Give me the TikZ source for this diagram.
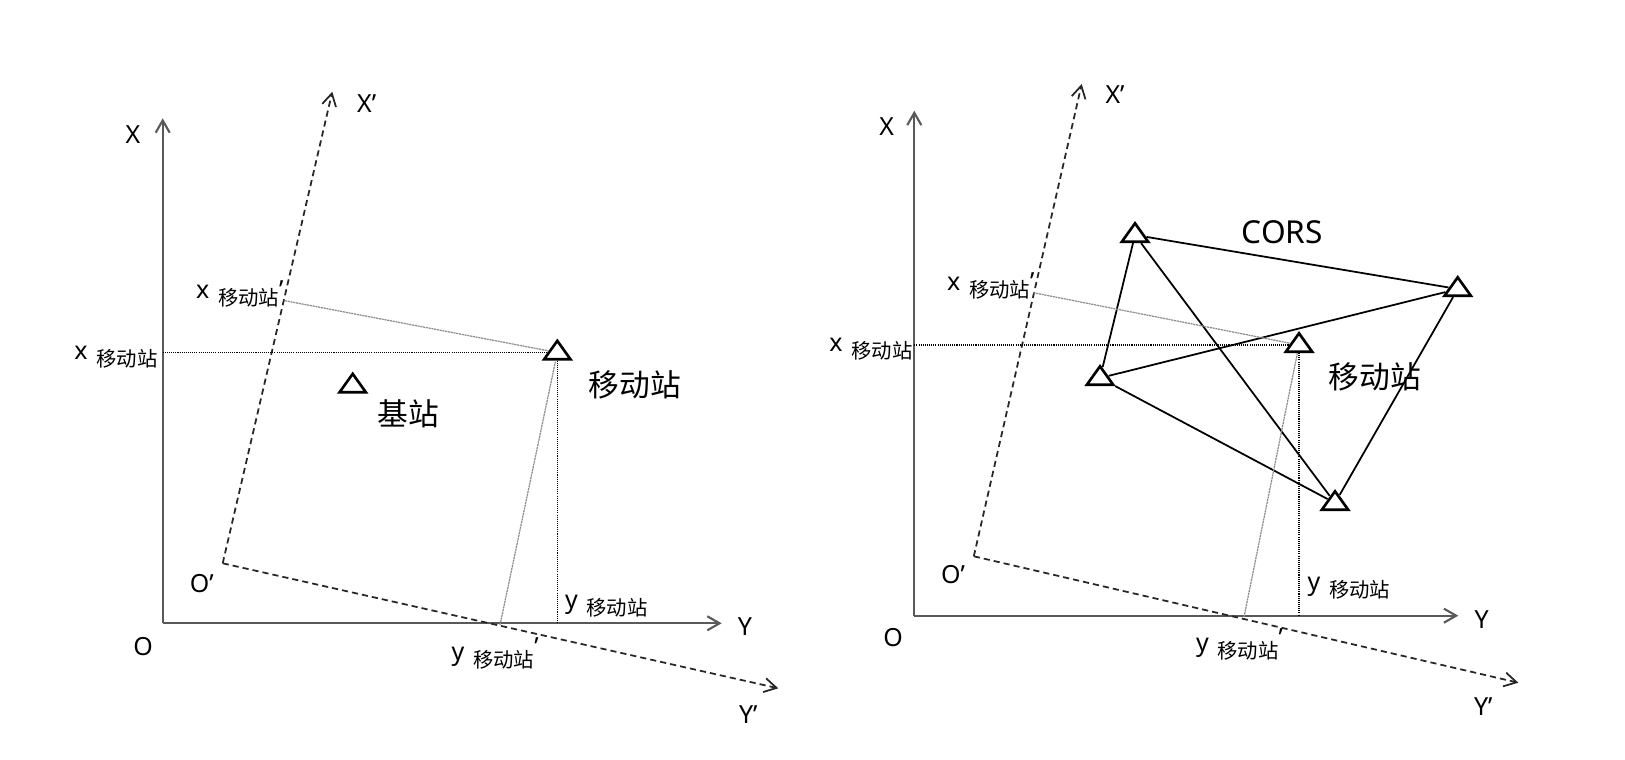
\documentclass[tikz,border=0pt]{standalone}
\usepackage{fontspec}
\setmainfont{Noto Sans}
\newfontfamily\cjk{Noto Sans CJK SC}
\usetikzlibrary{arrows.meta,shapes.geometric}
\newcommand{\zhsub}[1]{\hspace{5pt}\raisebox{-4pt}{\fontsize{11.6}{13}\selectfont\cjk #1}}
\begin{document}
\begin{tikzpicture}[x=0.02cm, y=-0.02cm,
    axis/.style={draw=black!65, line width=1.2pt, -{Straight Barb[length=7pt,width=8pt]}},
    newaxis/.style={draw=black!85, line width=1pt, dash pattern=on 3.5pt off 2.3pt, -{Straight Barb[length=7pt,width=8pt]}},
    guide/.style={draw=black, line width=0.6pt, dash pattern=on 0.6pt off 0.6pt},
    proj/.style={draw=black!45, line width=0.7pt, dash pattern=on 1.2pt off 0.4pt},
    link/.style={draw=black, line width=1pt},
    station/.style={draw, isosceles triangle, isosceles triangle stretches, shape border rotate=90, inner sep=0pt, minimum width=15pt, minimum height=10.5pt, line width=1.5pt},
    lbl/.style={inner sep=0pt, font=\fontsize{14.2}{16}\selectfont},
    coordlbl/.style={lbl, anchor=base west},
    zh/.style={inner sep=0pt, font=\fontsize{17.5}{20}\selectfont\cjk}]
    \useasboundingbox (0,0) rectangle (1625,760);

    % Left: base station and rover
    \coordinate (O1) at (162.7,623.3);
    \coordinate (X1) at (162.7,118.3);
    \coordinate (Y1) at (721.7,623.3);
    \coordinate (Op1) at (222.7,563.3);
    \coordinate (Xp1) at (332.3,91.7);
    \coordinate (Yp1) at (778.3,688.3);
    \coordinate (xf1) at (285,300.7);
    \coordinate (yf1) at (500,625);
    \draw[axis] (O1) -- (X1);
    \draw[axis] (O1) -- (Y1);
    \draw[newaxis] (Op1) -- (Xp1);
    \draw[newaxis] (Op1) -- (Yp1);

    \node[station] (base) at (352.7,385.5) {};
    \node[station] (rover1) at (557.3,352.5) {};
    \draw[guide] (rover1 -| O1) -- (rover1);
    \draw[guide] (rover1) -- (rover1 |- O1);
    \draw[proj] (xf1) -- (rover1);
    \draw[proj] (yf1) -- (rover1);

    \node[lbl] (lX1) at (133,135) {X};
    \node[lbl] (lXp1) at (366.7,103.3) {X’};
    \node[lbl] (lY1) at (745,626.7) {Y};
    \node[lbl] (lYp1) at (748.3,715) {Y’};
    \node[lbl] (lO1) at (143,647) {O};
    \node[lbl] (lOp1) at (201.7,583.3) {O’};
    \node[zh] (lbase) at (408.3,413.3) {基站};
    \node[zh] (lrover1) at (635,385) {移动站};
    \node[coordlbl] (xm1) at (74,359.2) {x\zhsub{移动站}};
    \node[coordlbl] (xpm1) at (195.7,298.8) {x\zhsub{移动站}’};
    \node[coordlbl] (ym1) at (564.7,608.6) {y\zhsub{移动站}};
    \node[coordlbl] (ypm1) at (451.3,660.3) {y\zhsub{移动站}\raisebox{3pt}{’}};

    % Right: CORS network and rover
    \coordinate (O2) at (914.3,615.7);
    \coordinate (X2) at (914.3,110.7);
    \coordinate (Y2) at (1458.3,615.7);
    \coordinate (Op2) at (973.8,556.3);
    \coordinate (Xp2) at (1081.7,84);
    \coordinate (Yp2) at (1518.3,682.7);
    \coordinate (xf2) at (1033.3,292.7);
    \coordinate (yf2) at (1244,617);
    \draw[axis] (O2) -- (X2);
    \draw[axis] (O2) -- (Y2);
    \draw[newaxis] (Op2) -- (Xp2);
    \draw[newaxis] (Op2) -- (Yp2);

    \node[station] (t1) at (1135,235) {};
    \node[station] (t2) at (1457.7,289) {};
    \node[station] (t3) at (1100,378) {};
    \node[station] (t4) at (1335,503) {};
    \node[station] (rover2) at (1299,345) {};
    \foreach \a/\b in {t1/t2, t1/t3, t1/t4, t3/t2, t3/t4, t2/t4}
        \draw[link] (\a) -- (\b);
    \draw[guide] (rover2 -| O2) -- (rover2);
    \draw[guide] (rover2) -- (rover2 |- O2);
    \draw[proj] (xf2) -- (rover2);
    \draw[proj] (yf2) -- (rover2);

    \node[lbl] (lX2) at (886.7,126.7) {X};
    \node[lbl] (lXp2) at (1115,95) {X’};
    \node[lbl] (lY2) at (1481.7,619.3) {Y};
    \node[lbl] (lYp2) at (1483.3,706.7) {Y’};
    \node[lbl] (lO2) at (893,638) {O};
    \node[lbl] (lOp2) at (953,575) {O’};
    \node[zh, font=\fontsize{18}{20}\selectfont] (lcors) at (1282.3,231.7) {CORS};
    \node[zh] (lrover2) at (1375,376.7) {移动站};
    \node[coordlbl] (xm2) at (829,351.5) {x\zhsub{移动站}};
    \node[coordlbl] (xpm2) at (946.7,290.5) {x\zhsub{移动站}’};
    \node[coordlbl] (ym2) at (1307.3,590.3) {y\zhsub{移动站}};
    \node[coordlbl] (ypm2) at (1195.7,651.9) {y\zhsub{移动站}\raisebox{3pt}{’}};
\end{tikzpicture}
\end{document}
